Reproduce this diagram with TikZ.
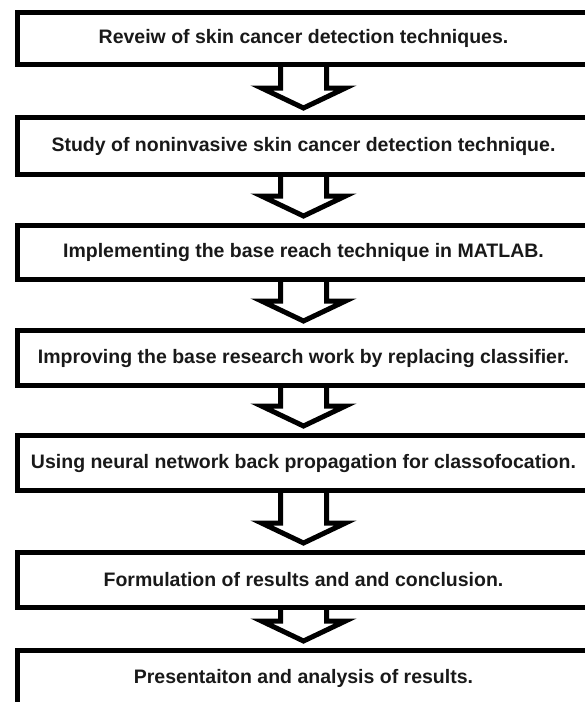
\documentclass[tikz,border=0pt]{standalone}
\usepackage{fontspec}
\setmainfont{Liberation Sans}
\newcommand*{\boxtextstyle}{\bfseries\fontsize{19.5}{23}\selectfont\color{black!90}}
\tikzset{
  stagebox/.style = {draw = black, line width = 5pt, minimum width = 572pt,
    inner sep = 0pt, font = \boxtextstyle},
  arrowline/.style = {draw = black, line width = 5pt}
}
\newcommand{\hollowarrow}[2]{%
% upper box, lower box
  \draw[arrowline] ([xshift=-23pt]#1.south) -- ([xshift=-23pt,yshift=27pt]#2.north)
       -- ([xshift=-42pt,yshift=27pt]#2.north) -- ([yshift=7pt]#2.north)
       -- ([xshift=42pt,yshift=27pt]#2.north) -- ([xshift=23pt,yshift=27pt]#2.north)
       -- ([xshift=23pt]#1.south);
}

\begin{document}
\begin{tikzpicture}[x=1pt,y=-1pt]
  \useasboundingbox (0,0) rectangle (585,702);
  \clip (0,0) rectangle (585,702);
  \foreach \n/\y/\h/\text in {1/38.5/52/Reveiw of skin cancer detection techniques.,
      2/146/57/Study of noninvasive skin cancer detection technique.,
      3/252.5/54/Implementing the base reach technique in MATLAB.,
      4/358/55/Improving the base research work by replacing classifier.,
      5/463/55/Using neural network back propagation for classofocation.,
      6/580/55/Formulation of results and and conclusion.,
      7/678/55/Presentaiton and analysis of results.} {
    \node[stagebox, minimum height = \h pt] (box\n) at (303.5,\y) {\text};
  }
  \foreach \a/\b in {1/2,2/3,3/4,4/5,5/6,6/7} {
    \hollowarrow{box\a}{box\b}
  }
\end{tikzpicture}
\end{document}
